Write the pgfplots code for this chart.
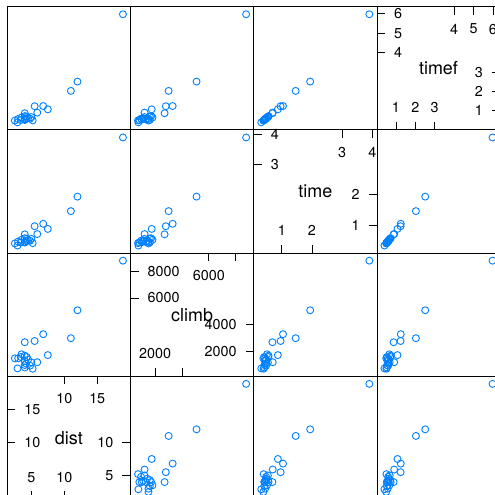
\documentclass[border=0pt]{standalone}
\usepackage{pgfplots}
\pgfplotsset{compat=1.18}
\usepackage{pgfplotstable}
\usepackage{fontspec}
\setmainfont{TeX Gyre Heros}
\definecolor{lblue}{HTML}{0080FF}

\pgfplotstableread{
dist climb time timef
7.5  1740 0.87 1.08
4.2  1110 0.47 0.62
5.9  1210 0.70 0.91
6.8  3300 1.04 1.25
5.0  1200 0.54 0.68
4.8   950 0.48 0.60
4.3  1600 0.55 0.71
3.0  1500 0.45 0.58
2.5  1500 0.39 0.50
12.0 5080 1.94 2.51
4.0  1000 0.43 0.55
4.0  1700 0.56 0.73
4.0  1300 0.44 0.57
3.5  1800 0.51 0.66
4.5  1400 0.48 0.62
5.5  2790 0.96 1.24
5.2   725 0.40 0.51
4.0  2700 0.69 0.88
18.9 8775 3.90 5.98
4.0   820 0.42 0.53
2.9   750 0.32 0.41
3.4  1600 0.42 0.53
11.0 3000 1.46 2.03
}\hills

\tikzset{varname/.style={font=\fontsize{18}{21}\selectfont}}
\pgfplotsset{
  panel/.style={scale only axis, width=123.2bp, height=123.2bp, anchor=south west,
    xtick=\empty, ytick=\empty,
    axis line style={line width=0.8bp, black, -},
    every tick/.style={black, line width=0.8bp},
    tick align=inside, major tick length=8bp,
    /pgf/number format/assume math mode=true,
    tick label style={font=\fontsize{14.4}{16}\selectfont, inner sep=0pt}},
  xdist/.style={xmin=1.352, xmax=20.048},
  ydist/.style={ymin=1.352, ymax=20.048},
  xclimb/.style={xmin=161.5, xmax=9338.5},
  yclimb/.style={ymin=161.5, ymax=9338.5},
  xtime/.style={xmin=0.0694, xmax=4.1506},
  ytime/.style={ymin=0.0694, ymax=4.1506},
  xtimef/.style={xmin=0.0201, xmax=6.3699},
  ytimef/.style={ymin=0.0201, ymax=6.3699},
  pts/.style={only marks, mark=o, mark size=3.5bp, color=lblue, mark options={line width=0.9bp}},
  diaglow/.style={axis x line*=bottom, axis y line*=right,
    xticklabel style={anchor=south, yshift=17bp},
    yticklabel style={anchor=east, xshift=-17bp}},
  diagup/.style={axis x line*=top, axis y line*=left,
    xticklabel style={anchor=north, yshift=-17bp},
    yticklabel style={anchor=west, xshift=17bp}}
}

\begin{document}
\begin{tikzpicture}
\path[use as bounding box] (0,0) rectangle (495bp,495bp);
\clip (0,0) rectangle (495bp,495bp);

% ---------- Row 0: y = timef ----------
\begin{axis}[panel, at={(7.3bp,365.1bp)}, xdist, ytimef]
\addplot[pts] table[x=dist, y=timef] {\hills};
\end{axis}
\begin{axis}[panel, at={(130.5bp,365.1bp)}, xclimb, ytimef]
\addplot[pts] table[x=climb, y=timef] {\hills};
\end{axis}
\begin{axis}[panel, at={(253.7bp,365.1bp)}, xtime, ytimef]
\addplot[pts] table[x=time, y=timef] {\hills};
\end{axis}
\begin{axis}[panel, at={(376.9bp,365.1bp)}, xtimef, ytimef, diaglow,
  xtick={1,2,3}, ytick={1,2,3}, xticklabels={1,2,3}, yticklabels={1,2,3}]
\node[varname] at (rel axis cs:0.5,0.5) {timef};
\end{axis}
\begin{axis}[panel, at={(376.9bp,365.1bp)}, xtimef, ytimef, diagup,
  xtick={4,5,6}, ytick={4,5,6}, xticklabels={4,5,6}, yticklabels={4,5,6}]
\end{axis}

% ---------- Row 1: y = time ----------
\begin{axis}[panel, at={(7.3bp,241.9bp)}, xdist, ytime]
\addplot[pts] table[x=dist, y=time] {\hills};
\end{axis}
\begin{axis}[panel, at={(130.5bp,241.9bp)}, xclimb, ytime]
\addplot[pts] table[x=climb, y=time] {\hills};
\end{axis}
\begin{axis}[panel, at={(253.7bp,241.9bp)}, xtime, ytime, diaglow,
  xtick={1,2}, ytick={1,2}, xticklabels={1,2}, yticklabels={1,2}]
\node[varname] at (rel axis cs:0.5,0.5) {time};
\end{axis}
\begin{axis}[panel, at={(253.7bp,241.9bp)}, xtime, ytime, diagup,
  xtick={3,4}, ytick={3,4}, xticklabels={3,4}, yticklabels={3,4}]
\end{axis}
\begin{axis}[panel, at={(376.9bp,241.9bp)}, xtimef, ytime]
\addplot[pts] table[x=timef, y=time] {\hills};
\end{axis}

% ---------- Row 2: y = climb ----------
\begin{axis}[panel, at={(7.3bp,118.7bp)}, xdist, yclimb]
\addplot[pts] table[x=dist, y=climb] {\hills};
\end{axis}
\begin{axis}[panel, at={(130.5bp,118.7bp)}, xclimb, yclimb, diaglow,
  xtick={2000,4000}, ytick={2000,4000}, xticklabels={2000,{}}, yticklabels={2000,4000}]
\node[varname] at (rel axis cs:0.5,0.5) {climb};
\end{axis}
\begin{axis}[panel, at={(130.5bp,118.7bp)}, xclimb, yclimb, diagup,
  xtick={6000,8000}, ytick={6000,8000}, xticklabels={6000,{}}, yticklabels={6000,8000}]
\end{axis}
\begin{axis}[panel, at={(253.7bp,118.7bp)}, xtime, yclimb]
\addplot[pts] table[x=time, y=climb] {\hills};
\end{axis}
\begin{axis}[panel, at={(376.9bp,118.7bp)}, xtimef, yclimb]
\addplot[pts] table[x=timef, y=climb] {\hills};
\end{axis}

% ---------- Row 3: y = dist ----------
\begin{axis}[panel, at={(7.3bp,-4.5bp)}, xdist, ydist, diaglow,
  xtick={5,10}, ytick={5,10}, xticklabels={5,10}, yticklabels={5,10}]
\node[varname] at (rel axis cs:0.5,0.5) {dist};
\end{axis}
\begin{axis}[panel, at={(7.3bp,-4.5bp)}, xdist, ydist, diagup,
  xtick={10,15}, ytick={10,15}, xticklabels={10,15}, yticklabels={10,15}]
\end{axis}
\begin{axis}[panel, at={(130.5bp,-4.5bp)}, xclimb, ydist]
\addplot[pts] table[x=climb, y=dist] {\hills};
\end{axis}
\begin{axis}[panel, at={(253.7bp,-4.5bp)}, xtime, ydist]
\addplot[pts] table[x=time, y=dist] {\hills};
\end{axis}
\begin{axis}[panel, at={(376.9bp,-4.5bp)}, xtimef, ydist]
\addplot[pts] table[x=timef, y=dist] {\hills};
\end{axis}
\end{tikzpicture}
\end{document}
